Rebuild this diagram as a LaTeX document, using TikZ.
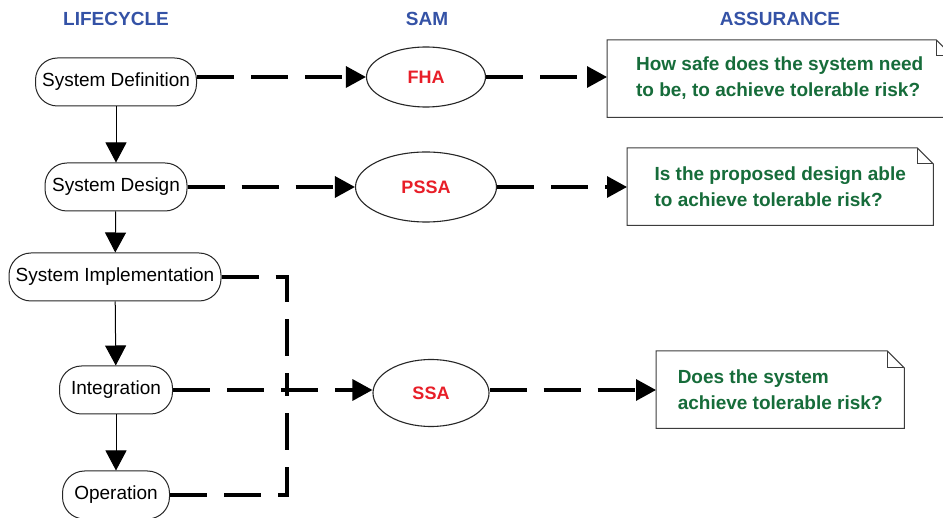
\documentclass[tikz,border=0pt]{standalone}
\usepackage{fontspec}
\setmainfont{Liberation Sans}
\usetikzlibrary{arrows.meta,shapes.geometric}

\definecolor{headblue}{RGB}{52,82,166}
\definecolor{samred}{RGB}{232,30,40}
\definecolor{qgreen}{RGB}{22,108,58}
\definecolor{edgegray}{RGB}{60,60,60}

\tikzset{
  header/.style={font=\fontsize{19}{22}\selectfont\bfseries, text=headblue},
  stage/.style={draw=black!85, line width=1pt, rounded corners=22pt,
    minimum height=48pt, inner sep=0pt, font=\fontsize{19}{22}\selectfont},
  samnode/.style={draw=black!85, line width=1.1pt, ellipse, inner sep=0pt,
    font=\fontsize{18}{22}\selectfont\bfseries, text=samred},
  note/.style={minimum height=77pt, align=left, inner sep=0pt,
    font=\fontsize{19}{26}\selectfont\bfseries, text=qgreen},
  noteline/.style={draw=edgegray, line width=1pt},
  flow/.style={line width=1pt, -{Triangle[length=20pt,width=21pt]}},
  dline/.style={line width=3.2pt, dash pattern=on 37pt off 17pt},
  darrow/.style={dline, -{Triangle[length=20pt,width=21pt]}}
}

% outline of a note with a folded top-right corner
\newcommand{\foldnote}[2]{%
  \draw[noteline] (#1.south west) -- (#1.north west)
    -- ([xshift=-#2]#1.north east) -- ([yshift=-#2]#1.north east)
    -- (#1.south east) -- cycle;
  \draw[noteline] ([xshift=-#2]#1.north east) |- ([yshift=-#2]#1.north east);
}

\begin{document}
\begin{tikzpicture}[x=1pt,y=-1pt]
\useasboundingbox[fill=white] (0,0) rectangle (943,518);

% column headings
\node[header] (hlife) at (116,19) {LIFECYCLE};
\node[header] (hsam)  at (427,19) {SAM};
\node[header] (hass)  at (780,19) {ASSURANCE};

% lifecycle stages
\node[stage, minimum width=161pt] (def)   at (116,82)  {System Definition};
\node[stage, minimum width=142pt] (des)   at (116,187) {System Design};
\node[stage, minimum width=212pt] (impl)  at (115,277) {System Implementation};
\node[stage, minimum width=113pt] (integ) at (116,390) {Integration};
\node[stage, minimum width=107pt] (oper)  at (116,495) {Operation};

\draw[flow] (def) -- (des);
\draw[flow] (des) -- (impl);
\draw[flow] (impl) -- (integ);
\draw[flow] (integ) -- (oper);

% safety assessment steps
\node[samnode, minimum width=119pt, minimum height=60pt] (fha)  at (426,77)  {FHA};
\node[samnode, minimum width=141pt, minimum height=70pt] (pssa) at (426,187) {PSSA};
\node[samnode, minimum width=116pt, minimum height=67pt] (ssa)  at (431,393) {SSA};

% assurance questions
\node[note, minimum width=345pt, anchor=north west] (q1) at (607,40)
  {How safe does the system need\\to be, to achieve tolerable risk?\vphantom{g}};
\node[note, minimum width=306pt, anchor=north west] (q2) at (627,148)
  {Is the proposed design able\\to achieve tolerable risk?};
\node[note, minimum width=248pt, anchor=north west] (q3) at (656,351)
  {Does the system\\achieve tolerable risk?};
\foldnote{q1}{16pt}
\foldnote{q2}{16pt}
\foldnote{q3}{17pt}

% dashed links
\draw[darrow] (def.east |- fha.west) -- (fha.west);
\draw[darrow] (fha.east) -- (q1.west |- fha.east);
\draw[darrow] (des.east) -- (pssa.west);
\draw[darrow] (pssa.east) -- (q2.west |- pssa.east);

\coordinate (junc) at (287,390);
\draw[dline] (impl.east) -| (junc);
\draw[dline] (oper.east) -| (junc);
\draw[darrow] (integ.east) -- (ssa.west |- integ.east);
\draw[darrow] (ssa.east |- integ.east) -- (q3.west |- integ.east);
\end{tikzpicture}
\end{document}
